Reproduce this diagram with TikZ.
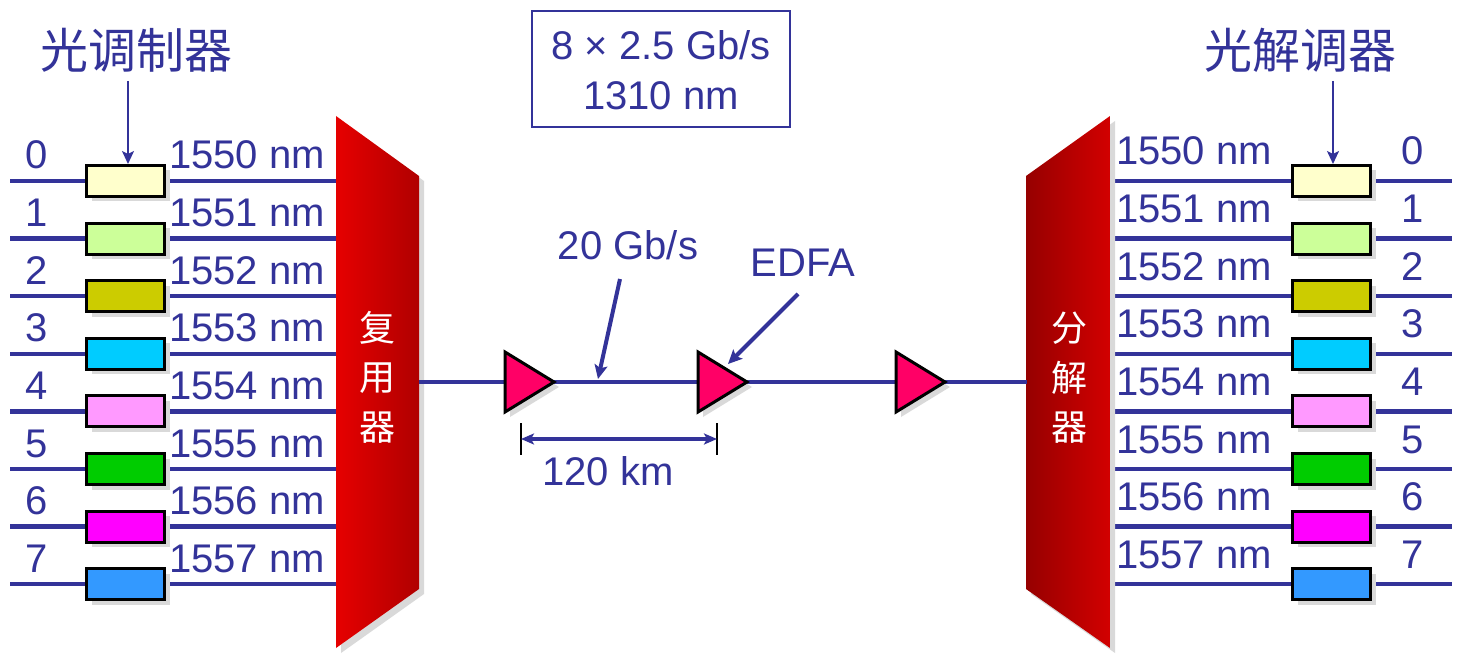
\documentclass[tikz,border=0pt]{standalone}
\usepackage{fontspec}
\setmainfont{Liberation Sans}
\newfontfamily\cjk{Noto Sans CJK SC}
\usetikzlibrary{arrows.meta,shadows}
\definecolor{tb}{HTML}{333399}
\definecolor{c0}{HTML}{FFFFCC}
\definecolor{c1}{HTML}{CCFF99}
\definecolor{c2}{HTML}{CCCC00}
\definecolor{c3}{HTML}{00CCFF}
\definecolor{c4}{HTML}{FF99FF}
\definecolor{c5}{HTML}{00CC00}
\definecolor{c6}{HTML}{FF00FF}
\definecolor{c7}{HTML}{3399FF}
\definecolor{amp}{HTML}{FF0066}
\definecolor{shd}{HTML}{D9D9D9}
\pgfdeclarelayer{bg}
\pgfsetlayers{bg,main}
\begin{document}
\begin{tikzpicture}[x=1pt,y=-1pt,
  lbl/.style={text=tb,inner sep=0pt,font=\fontsize{40}{48}\selectfont},
  hdr/.style={text=tb,inner sep=0pt,font=\cjk\fontsize{48}{56}\selectfont},
  wch/.style={text=white,inner sep=0pt,font=\cjk\fontsize{36}{40}\selectfont},
  modbox/.style={draw=black,line width=3pt,minimum width=78pt,minimum height=31pt,inner sep=0pt,
    drop shadow={shadow xshift=5pt,shadow yshift=-5pt,fill=shd,opacity=1}},
  fiber/.style={draw=tb,line width=4.5pt},
  thinarrow/.style={draw=tb,line width=2pt,-{Stealth[length=13pt,width=12pt,inset=3pt]}},
  thickarrow/.style={draw=tb,line width=4pt,-{Stealth[length=14pt,width=13pt,inset=3pt]}},
  ampl/.style={fill=amp,draw=black,line width=3pt,line join=miter},
  ampshadow/.style={fill=shd},
]
\useasboundingbox (0,0) rectangle (1462,660);

% multiplexer
\fill[shd] (341,121) -- (424,181) -- (424,594) -- (341,653) -- cycle;
\shade[left color={rgb,255:red,230;green,0;blue,0},right color={rgb,255:red,176;green,0;blue,0}]
  (336,116) -- (419,176) -- (419,589) -- (336,648) -- cycle;
\node[wch] (m1) at (377,328) {复};
\node[wch] (m2) at (377,378) {用};
\node[wch] (m3) at (377,428) {器};

% demultiplexer
\fill[shd] (1115,121) -- (1031,181) -- (1031,594) -- (1115,653) -- cycle;
\shade[left color={rgb,255:red,150;green,0;blue,0},right color={rgb,255:red,210;green,0;blue,0}]
  (1110,116) -- (1026,176) -- (1026,589) -- (1110,648) -- cycle;
\node[wch] (d1) at (1069,328) {分};
\node[wch] (d2) at (1069,378) {解};
\node[wch] (d3) at (1069,428) {器};

\coordinate (muxR) at (419,382);
\coordinate (demuxL) at (1027,382);

\foreach \i/\c/\w in {0/c0/1550,1/c1/1551,2/c2/1552,3/c3/1553,4/c4/1554,5/c5/1555,6/c6/1556,7/c7/1557}{
  \pgfmathsetmacro{\yy}{181+57.6*\i}
  \coordinate (ls\i) at (10,\yy);
  \coordinate (lm\i) at (336,\yy);
  \coordinate (rd\i) at (1110,\yy);
  \coordinate (re\i) at (1452,\yy);
  \node[modbox,fill=\c] (mb\i) at (125.5,\yy) {};
  \node[modbox,fill=\c] (db\i) at (1331.5,\yy) {};
  \node[lbl,anchor=base] (ln\i) at (37,\yy-12) {\i};
  \node[lbl,anchor=base east] (lw\i) at (325,\yy-12) {\w{} nm};
  \node[lbl,anchor=base] (rn\i) at (1413,\yy-16) {\i};
  \node[lbl,anchor=base west] (rw\i) at (1116,\yy-16) {\w{} nm};
  \begin{pgfonlayer}{bg}
    \draw[fiber] (ls\i) -- (mb\i.west);
    \draw[fiber] (mb\i.east) -- (lm\i);
    \draw[fiber] (rd\i) -- (db\i.west);
    \draw[fiber] (db\i.east) -- (re\i);
  \end{pgfonlayer}
}

% main fiber
\draw[fiber] (muxR) -- (demuxL);

% amplifiers
\foreach \n/\x in {1/505,2/698,3/896}{
  \fill[ampshadow] (\x+5,357) -- (\x+54,387) -- (\x+5,417) -- cycle;
  \draw[ampl] (\x,352) -- (\x+49,382) -- (\x,412) -- cycle;
  \coordinate (a\n) at (\x+12,382);
}

% header labels
\node[hdr] (mod) at (136,50) {光调制器};
\node[hdr] (demod) at (1300,50) {光解调器};
\draw[thinarrow] (128,81) -- (mb0.north -| 128,0);
\draw[thinarrow] (1333,81) -- (db0.north -| 1333,0);

% top box
\draw[tb,line width=2pt] (532,11) rectangle (790,127);
\node[lbl,anchor=base] (tb1) at (661,60) {8 × 2.5 Gb/s};
\node[lbl,anchor=base] (tb2) at (661,110) {1310 nm};

% rate and EDFA
\node[lbl,anchor=base] (rate) at (628,260) {20 Gb/s};
\node[lbl,anchor=base] (edfa) at (803,277) {EDFA};
\coordinate (rateTip) at (598,379);
\coordinate (edfaTip) at (728,364);
\draw[thickarrow] (620,279) -- (rateTip);
\draw[thickarrow] (798,294) -- (edfaTip);

% span
\coordinate (s1) at (521,439);
\coordinate (s2) at (717,439);
\draw[black,line width=1.5pt] (521,423) -- (521,455);
\draw[black,line width=1.5pt] (717,423) -- (717,455);
\draw[tb,line width=3.5pt,{Stealth[length=13pt,width=11pt,inset=3pt]}-{Stealth[length=13pt,width=11pt,inset=3pt]}] (s1) -- (s2);
\node[lbl,anchor=base] (km) at (608,485) {120 km};
\end{tikzpicture}
\end{document}
